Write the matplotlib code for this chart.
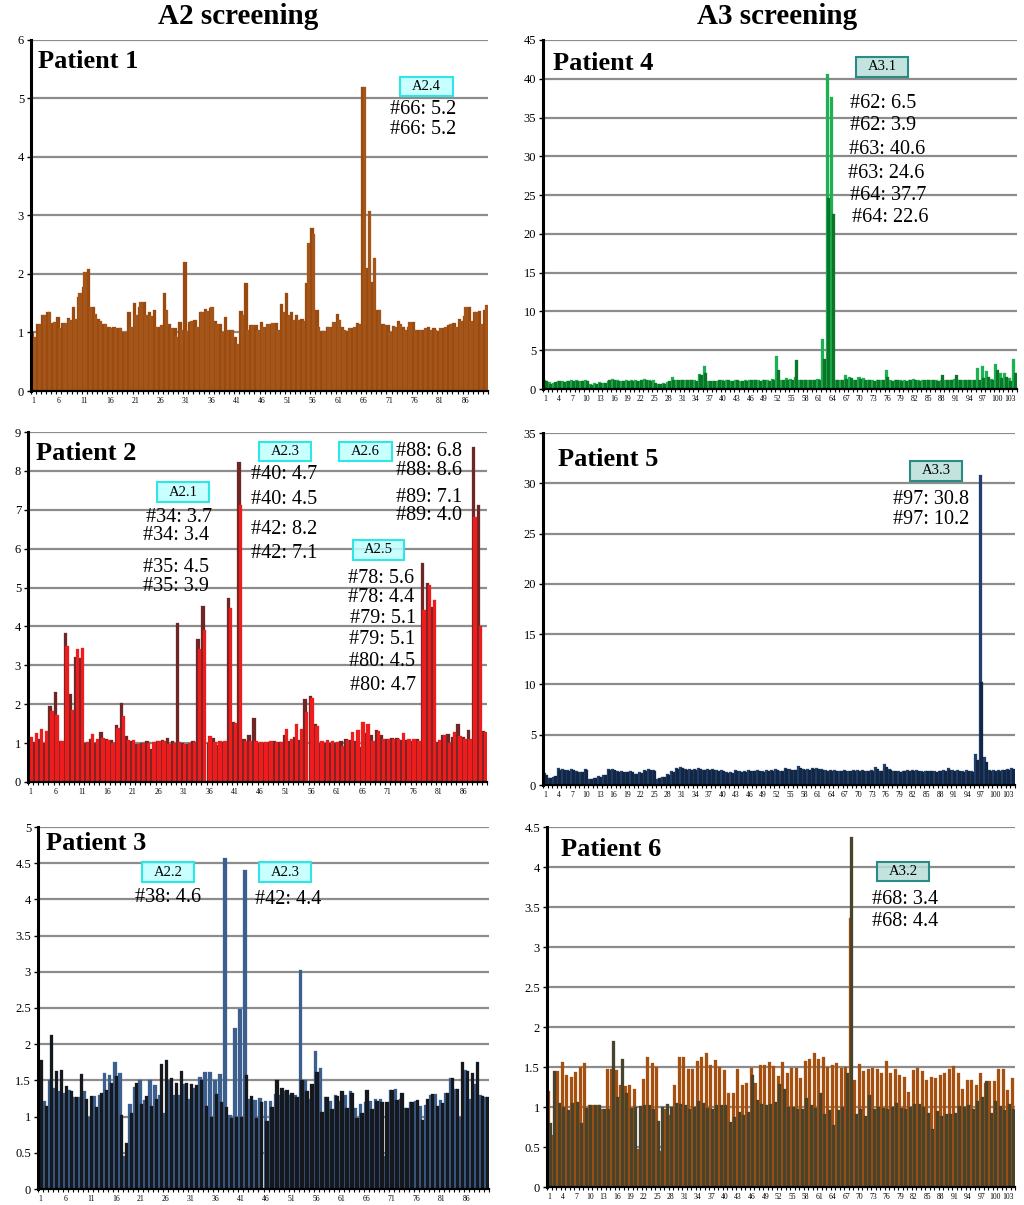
import numpy as np
import matplotlib.pyplot as plt
from matplotlib.patches import Rectangle

plt.rcParams['font.family'] = ['Liberation Serif', 'DejaVu Serif']

# ---------------- data ----------------
# Patient 1 (A2 screening), 90 positions, two series
p1_a = [1.0, 1.15, 1.3, 1.35, 1.17, 1.26, 1.17, 1.25, 1.43, 1.6,
        1.78, 2.08, 1.44, 1.23, 1.15, 1.1, 1.1, 1.07, 1.0, 1.35,
        1.51, 1.43, 1.52, 1.35, 1.38, 1.1, 1.68, 1.15, 1.08, 1.18,
        2.21, 1.18, 1.22, 1.35, 1.4, 1.42, 1.2, 1.15, 1.26, 1.05,
        0.92, 1.37, 1.85, 1.12, 1.13, 1.18, 1.1, 1.15, 1.16, 1.49,
        1.67, 1.35, 1.3, 1.23, 1.84, 2.78, 1.38, 1.03, 1.1, 1.1,
        1.32, 1.1, 1.03, 1.08, 1.16, 5.2, 2.1, 1.87, 1.38, 1.15,
        1.12, 1.11, 1.2, 1.1, 1.1, 1.18, 1.05, 1.05, 1.1, 1.07,
        1.03, 1.08, 1.12, 1.17, 1.23, 1.28, 1.43, 1.35, 1.36, 1.39]
p1_b = [0.93, 1.15, 1.3, 1.35, 1.18, 1.08, 1.17, 1.22, 1.23, 1.68,
        2.03, 1.44, 1.32, 1.2, 1.15, 1.08, 1.08, 1.07, 1.0, 1.1,
        1.3, 1.52, 1.3, 1.28, 1.1, 1.12, 1.38, 1.08, 0.92, 1.05,
        1.03, 1.2, 1.1, 1.35, 1.37, 1.43, 1.15, 1.0, 1.04, 1.05,
        0.8, 1.3, 1.04, 1.12, 1.05, 1.1, 1.15, 1.17, 1.05, 1.35,
        1.3, 1.22, 1.22, 1.2, 2.53, 2.68, 1.1, 1.03, 1.1, 1.18,
        1.22, 1.05, 1.08, 1.1, 1.14, 5.2, 3.07, 2.28, 1.38, 1.12,
        1.0, 1.1, 1.15, 1.05, 1.18, 1.05, 1.05, 1.08, 1.05, 1.05,
        1.08, 1.1, 1.15, 1.1, 1.2, 1.43, 1.2, 1.35, 1.15, 1.47]

# Patient 2
p2_a = [1.1, 1.02, 1.1, 1.0, 1.95, 2.32, 1.05, 3.83, 2.27, 3.22,
        3.18, 1.0, 1.1, 1.0, 1.28, 1.1, 1.08, 1.47, 2.02, 1.18,
        1.05, 0.97, 1.0, 1.05, 0.85, 1.05, 1.07, 1.12, 1.05, 4.08,
        1.0, 0.97, 1.05, 3.68, 4.53, 1.0, 1.12, 0.95, 1.02, 4.73,
        1.55, 8.22, 1.1, 1.22, 1.65, 1.0, 1.0, 1.02, 1.05, 1.02,
        1.22, 1.05, 1.17, 1.08, 2.13, 2.2, 1.5, 1.0, 1.0, 1.0,
        1.0, 1.05, 1.1, 1.08, 1.05, 0.9, 1.25, 1.2, 1.33, 1.2,
        1.1, 1.12, 1.12, 1.08, 1.08, 1.05, 1.1, 5.62, 5.12, 4.5,
        1.02, 1.2, 1.23, 1.15, 1.5, 1.15, 1.33, 8.62, 7.12, 1.32]
p2_b = [1.15, 1.27, 1.37, 1.32, 1.82, 1.72, 1.05, 3.5, 1.85, 3.43,
        3.45, 1.02, 1.23, 1.1, 1.13, 1.08, 1.0, 1.4, 1.7, 1.08,
        1.08, 0.97, 1.0, 1.0, 1.02, 1.05, 1.05, 0.98, 1.0, 1.02,
        0.97, 1.0, 1.03, 3.43, 3.92, 1.18, 1.02, 1.05, 1.05, 4.48,
        1.52, 7.12, 1.05, 1.05, 1.05, 1.03, 1.02, 1.05, 1.03, 1.03,
        1.37, 1.1, 1.5, 1.37, 1.8, 2.17, 1.43, 1.05, 1.07, 1.05,
        1.02, 0.92, 1.08, 1.28, 1.33, 1.55, 1.5, 1.05, 1.32, 1.1,
        1.1, 1.1, 1.1, 1.25, 1.1, 1.1, 1.05, 4.42, 5.07, 4.67,
        1.08, 1.2, 1.0, 1.28, 1.18, 1.1, 1.1, 6.82, 4.02, 1.28]

# Patient 3
p3_a = [1.2, 1.22, 1.5, 1.4, 1.35, 1.33, 1.37, 1.27, 1.27, 1.35,
        1.0, 1.28, 1.3, 1.6, 1.57, 1.75, 1.6, 0.45, 1.17, 1.41,
        1.5, 1.23, 1.5, 1.43, 1.3, 1.05, 1.5, 1.3, 1.3, 1.45,
        1.25, 1.4, 1.55, 1.61, 1.62, 1.5, 1.59, 4.57, 1.02, 2.23,
        2.48, 4.41, 1.25, 1.23, 1.26, 1.22, 1.21, 1.31, 1.3, 1.35,
        1.3, 1.3, 3.02, 1.5, 1.25, 1.91, 1.67, 1.27, 1.22, 1.3,
        1.21, 1.3, 1.35, 1.12, 1.17, 1.2, 1.21, 1.25, 1.25, 0.45,
        1.37, 1.38, 1.25, 1.12, 1.2, 1.22, 1.15, 1.16, 1.3, 1.31,
        1.23, 1.33, 1.53, 1.38, 1.0, 1.64, 1.25, 1.45, 1.3, 1.27]
p3_b = [1.78, 1.15, 2.13, 1.63, 1.64, 1.42, 1.35, 1.27, 1.59, 1.25,
        1.28, 1.13, 1.32, 1.37, 1.46, 1.56, 1.02, 0.63, 1.05, 1.46,
        1.18, 1.28, 1.14, 1.25, 1.73, 1.78, 1.53, 1.46, 1.63, 1.46,
        1.45, 1.43, 1.51, 1.14, 0.99, 1.31, 1.2, 1.13, 0.98, 1.0,
        1.0, 1.58, 1.29, 0.98, 1.2, 0.94, 1.13, 1.5, 1.4, 1.37,
        1.33, 1.27, 1.5, 1.36, 1.45, 1.62, 1.07, 1.27, 1.11, 1.28,
        1.36, 1.12, 1.33, 0.98, 1.05, 1.37, 1.1, 1.21, 1.2, 1.2,
        1.37, 1.23, 1.32, 1.12, 1.2, 1.23, 0.95, 1.24, 1.31, 1.14,
        1.19, 1.33, 1.53, 1.38, 1.76, 1.63, 1.6, 1.76, 1.28, 1.27]

# Patient 4 (A3 screening), 104 positions
p4_a = [1.1, 0.9, 0.8, 1.0, 1.0, 1.0, 1.1, 1.1, 1.0, 1.1,
        0.6, 0.8, 0.9, 0.8, 1.0, 1.3, 1.1, 1.0, 1.1, 1.1,
        1.1, 1.0, 1.3, 1.1, 1.1, 0.7, 0.8, 0.9, 1.5, 1.2,
        1.2, 1.2, 1.2, 1.1, 1.9, 3.0, 1.0, 1.0, 1.0, 1.1,
        1.2, 1.0, 1.2, 1.0, 1.1, 1.1, 1.2, 1.1, 1.1, 1.1,
        1.3, 4.2, 1.2, 1.4, 1.3, 1.6, 1.2, 1.2, 1.2, 1.2,
        1.3, 6.5, 40.6, 37.7, 1.2, 1.1, 1.8, 1.6, 1.2, 1.5,
        1.4, 1.2, 1.1, 1.2, 1.2, 2.5, 1.1, 1.1, 1.2, 1.1,
        1.2, 1.3, 1.1, 1.2, 1.2, 1.2, 1.1, 1.1, 1.2, 1.2,
        1.3, 1.2, 1.2, 1.2, 1.1, 2.7, 3.0, 2.3, 1.3, 3.2,
        2.0, 2.1, 1.4, 3.9]
p4_b = [1.0, 0.7, 0.9, 1.0, 0.9, 1.0, 1.0, 1.0, 1.0, 1.0,
        0.5, 0.7, 0.8, 0.8, 1.1, 1.1, 1.0, 1.0, 1.0, 1.0,
        1.0, 1.1, 1.1, 1.0, 0.8, 0.6, 0.7, 1.0, 1.2, 1.1,
        1.1, 1.1, 1.1, 1.0, 1.8, 2.1, 1.0, 1.0, 1.1, 1.0,
        1.1, 1.0, 1.1, 1.0, 1.0, 1.1, 1.1, 1.0, 1.1, 1.0,
        1.2, 2.4, 1.1, 1.1, 1.1, 3.8, 1.2, 1.1, 1.2, 1.2,
        1.2, 3.9, 24.6, 22.6, 1.1, 1.1, 1.3, 1.4, 1.1, 1.3,
        1.2, 1.1, 1.0, 1.1, 1.1, 1.5, 1.0, 1.1, 1.0, 1.0,
        1.1, 1.1, 1.0, 1.1, 1.1, 1.1, 1.0, 1.8, 1.1, 1.1,
        1.8, 1.1, 1.1, 1.1, 1.1, 1.2, 1.4, 1.5, 1.2, 2.5,
        1.4, 1.6, 1.0, 2.0]

# Patient 5
p5_a = [1.2, 0.7, 0.8, 1.7, 1.6, 1.5, 1.6, 1.4, 1.3, 1.6,
        0.6, 0.7, 0.9, 1.0, 1.6, 1.6, 1.4, 1.4, 1.3, 1.4,
        1.1, 1.3, 1.5, 1.6, 1.5, 0.6, 0.8, 1.1, 1.4, 1.7,
        1.8, 1.6, 1.6, 1.6, 1.7, 1.5, 1.6, 1.6, 1.5, 1.5,
        1.3, 1.3, 1.5, 1.4, 1.4, 1.5, 1.4, 1.5, 1.4, 1.5,
        1.5, 1.6, 1.4, 1.7, 1.6, 1.5, 1.9, 1.6, 1.6, 1.7,
        1.7, 1.6, 1.5, 1.5, 1.5, 1.4, 1.5, 1.4, 1.5, 1.5,
        1.5, 1.4, 1.5, 1.8, 1.4, 2.1, 1.6, 1.4, 1.4, 1.4,
        1.5, 1.5, 1.5, 1.4, 1.4, 1.4, 1.4, 1.4, 1.5, 1.7,
        1.5, 1.5, 1.4, 1.5, 1.4, 3.1, 30.8, 2.8, 1.5, 1.5,
        1.5, 1.5, 1.6, 1.7]
p5_b = [1.0, 0.7, 0.9, 1.5, 1.5, 1.4, 1.5, 1.3, 1.3, 1.5,
        0.6, 0.7, 0.8, 1.0, 1.5, 1.5, 1.3, 1.3, 1.3, 1.3,
        1.1, 1.2, 1.4, 1.5, 1.4, 0.7, 0.8, 1.0, 1.3, 1.6,
        1.7, 1.5, 1.5, 1.5, 1.6, 1.5, 1.5, 1.5, 1.4, 1.4,
        1.2, 1.2, 1.4, 1.3, 1.3, 1.4, 1.4, 1.4, 1.3, 1.4,
        1.4, 1.5, 1.4, 1.6, 1.5, 1.5, 1.7, 1.5, 1.5, 1.6,
        1.6, 1.5, 1.4, 1.4, 1.4, 1.4, 1.4, 1.4, 1.4, 1.4,
        1.4, 1.4, 1.4, 1.6, 1.4, 1.8, 1.5, 1.4, 1.3, 1.4,
        1.4, 1.4, 1.4, 1.3, 1.4, 1.4, 1.3, 1.4, 1.4, 1.5,
        1.4, 1.4, 1.3, 1.4, 1.3, 2.5, 10.2, 2.3, 1.4, 1.4,
        1.4, 1.5, 1.5, 1.6]

# Patient 6
p6_a = [1.2, 0.65, 1.45, 1.56, 1.4, 1.38, 1.44, 1.5, 1.55, 1.02,
        1.02, 1.02, 0.97, 1.48, 1.48, 1.46, 1.28, 1.26, 1.27, 1.23,
        0.47, 1.35, 1.63, 1.55, 1.5, 0.45, 0.98, 0.9, 1.27, 1.63,
        1.63, 1.48, 1.48, 1.57, 1.62, 1.67, 1.52, 1.59, 1.5, 1.46,
        1.17, 1.18, 1.48, 1.27, 1.3, 1.49, 1.3, 1.52, 1.53, 1.56,
        1.51, 1.39, 1.56, 1.42, 1.49, 1.49, 1.36, 1.58, 1.6, 1.67,
        1.6, 1.62, 1.5, 1.52, 1.55, 1.49, 1.5, 3.36, 1.34, 1.54,
        1.45, 1.47, 1.49, 1.47, 1.42, 1.57, 1.42, 1.47, 1.4, 1.38,
        1.19, 1.46, 1.49, 1.45, 1.34, 1.37, 1.36, 1.4, 1.42, 1.47,
        1.51, 1.42, 1.22, 1.34, 1.34, 1.27, 1.43, 1.3, 1.32, 1.33,
        1.47, 1.47, 1.21, 1.36]
p6_b = [0.8, 1.45, 1.05, 1.0, 0.96, 1.05, 1.06, 0.8, 0.99, 1.02,
        1.02, 1.02, 0.98, 0.98, 1.82, 1.13, 1.6, 1.17, 0.99, 1.0,
        1.01, 1.02, 1.02, 0.98, 0.83, 1.0, 1.04, 1.0, 1.05, 1.04,
        1.03, 0.98, 1.0, 1.08, 1.05, 0.99, 0.98, 1.02, 1.02, 1.03,
        0.81, 0.87, 0.94, 0.9, 0.94, 1.4, 1.09, 1.04, 1.03, 1.04,
        1.06, 1.29, 1.23, 1.0, 1.0, 0.98, 0.97, 1.11, 1.03, 0.99,
        1.17, 0.91, 0.96, 0.78, 0.96, 1.0, 1.43, 4.37, 0.91, 0.97,
        0.89, 1.15, 0.97, 1.0, 0.99, 0.98, 1.0, 1.05, 0.99, 0.98,
        1.0, 1.04, 1.04, 1.0, 0.92, 0.72, 0.95, 0.89, 0.91, 0.91,
        0.92, 1.01, 1.0, 1.03, 0.98, 1.07, 1.12, 1.32, 0.93, 1.07,
        1.01, 0.96, 1.04, 0.97]

# ---------------- figure ----------------
W, H = 1024, 1205
fig = plt.figure(figsize=(W / 100, H / 100), dpi=100)
fig.patch.set_facecolor('white')


def fx(x):
    return x / W


def fy(y):
    return 1 - y / H


def panel(box, s1, s2, c1, c2, ymax, ystep, xstep, name, name_pos):
    x0, y0, x1, y1 = box
    ax = fig.add_axes([fx(x0), fy(y1), (x1 - x0) / W, (y1 - y0) / H])
    n = len(s1)
    x = np.arange(1, n + 1)
    # overlapping clustered bars (second series in front)
    ax.bar(x - 1 / 6, s1, width=2 / 3, color=c1, edgecolor=c1, linewidth=0.2)
    ax.bar(x + 1 / 6, s2, width=2 / 3, color=c2, edgecolor=c2, linewidth=0.2)
    ax.set_xlim(0.5, n + 0.5)
    ax.set_ylim(0, ymax)
    yt = np.arange(0, ymax + ystep / 2, ystep)
    ax.set_yticks(yt)
    ax.set_yticklabels([f'{v:g}' for v in yt], fontsize=9)
    xt = np.arange(1, n + 1, xstep)
    ax.set_xticks(xt)
    ax.set_xticklabels([str(v) for v in xt], fontsize=5.5)
    ax.set_xticks(np.arange(0.5, n + 1), minor=True)
    ax.tick_params(axis='x', which='major', length=0, pad=4)
    ax.tick_params(axis='x', which='minor', length=2.5, width=0.8)
    ax.tick_params(axis='y', length=3, width=1, pad=2)
    ax.set_axisbelow(True)
    ax.yaxis.grid(True, color='#8c8c8c', lw=1.6)
    for s in ['top', 'right']:
        ax.spines[s].set_visible(False)
    ax.spines['left'].set_linewidth(2.2)
    ax.spines['bottom'].set_linewidth(1.6)
    fig.text(fx(name_pos[0]), fy(name_pos[1]), name, fontsize=19,
             fontweight='bold', ha='left', va='center')
    return ax


panel((31, 40, 488, 391), p1_a, p1_b, '#9a4a0e', '#a4561a', 6, 1, 5,
      'Patient 1', (38, 62))
panel((28, 432, 487, 782), p2_a, p2_b, '#6e2626', '#ee1c1c', 9, 1, 5,
      'Patient 2', (36, 453))
panel((38, 827, 489, 1189), p3_a, p3_b, '#3d5f8d', '#15181d', 5, 0.5, 5,
      'Patient 3', (46, 843))
panel((543, 40, 1017, 389), p4_a, p4_b, '#1fb054', '#0c7628', 45, 5, 3,
      'Patient 4', (553, 64))
panel((543, 433, 1015, 785), p5_a, p5_b, '#22406b', '#132744', 35, 5, 3,
      'Patient 5', (558, 460))
panel((547, 827, 1015, 1187), p6_a, p6_b, '#a5500f', '#4a432c', 4.5, 0.5, 3,
      'Patient 6', (561, 850))

fig.text(fx(238), fy(17), 'A2 screening', fontsize=21, fontweight='bold',
         ha='center', va='center')
fig.text(fx(777), fy(17), 'A3 screening', fontsize=21, fontweight='bold',
         ha='center', va='center')

# labelled boxes
A2_FACE, A2_EDGE = (0.75, 1.0, 1.0, 0.85), '#2ee6e6'
A3_FACE, A3_EDGE = (0.72, 0.87, 0.85, 0.85), '#2a8a86'
boxes = [
    (400, 77, 453, 96, 'A2.4', A2_FACE, A2_EDGE),
    (157, 482, 209, 502, 'A2.1', A2_FACE, A2_EDGE),
    (259, 442, 311, 461, 'A2.3', A2_FACE, A2_EDGE),
    (339, 442, 392, 461, 'A2.6', A2_FACE, A2_EDGE),
    (353, 540, 404, 560, 'A2.5', A2_FACE, A2_EDGE),
    (142, 862, 194, 882, 'A2.2', A2_FACE, A2_EDGE),
    (259, 862, 311, 882, 'A2.3', A2_FACE, A2_EDGE),
    (856, 57, 908, 77, 'A3.1', A3_FACE, A3_EDGE),
    (910, 461, 962, 481, 'A3.3', A3_FACE, A3_EDGE),
    (877, 862, 929, 881, 'A3.2', A3_FACE, A3_EDGE),
]
for x0, y0, x1, y1, t, fc, ec in boxes:
    fig.add_artist(Rectangle((fx(x0), fy(y1)), (x1 - x0) / W, (y1 - y0) / H,
                             transform=fig.transFigure, facecolor=fc,
                             edgecolor=ec, lw=1.5, zorder=5))
    fig.text(fx((x0 + x1) / 2), fy((y0 + y1) / 2), t, fontsize=10.5,
             ha='center', va='center', zorder=6)

# value annotations
notes = [
    (390, 109, '#66: 5.2'), (390, 130, '#66: 5.2'),
    (146, 517, '#34: 3.7'), (143, 536, '#34: 3.4'),
    (143, 568, '#35: 4.5'), (143, 586, '#35: 3.9'),
    (251, 475, '#40: 4.7'), (251, 499, '#40: 4.5'),
    (251, 529, '#42: 8.2'), (251, 554, '#42: 7.1'),
    (396, 452, '#88: 6.8'), (396, 471, '#88: 8.6'),
    (396, 497, '#89: 7.1'), (396, 516, '#89: 4.0'),
    (348, 578, '#78: 5.6'), (348, 597, '#78: 4.4'),
    (350, 619, '#79: 5.1'), (349, 640, '#79: 5.1'),
    (349, 661, '#80: 4.5'), (350, 685, '#80: 4.7'),
    (135, 897, '#38: 4.6'), (255, 899, '#42: 4.4'),
    (850, 103, '#62: 6.5'), (850, 125, '#62: 3.9'),
    (849, 150, '#63: 40.6'), (848, 173, '#63: 24.6'),
    (850, 195, '#64: 37.7'), (852, 217, '#64: 22.6'),
    (893, 499, '#97: 30.8'), (893, 520, '#97: 10.2'),
    (872, 899, '#68: 3.4'), (872, 921, '#68: 4.4'),
]
for x, y, t in notes:
    fig.text(fx(x), fy(y), t, fontsize=14.5, ha='left', va='center', zorder=6)

fig.savefig('out.png', dpi=100)
